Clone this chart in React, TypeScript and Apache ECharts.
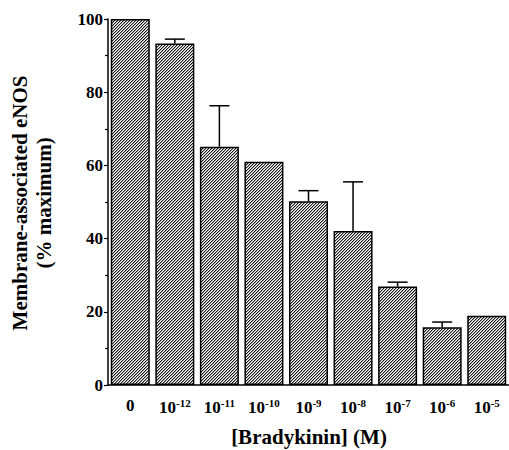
import React, { useEffect, useRef } from "react";
import * as echarts from "echarts";

const categories = ["0", "-12", "-11", "-10", "-9", "-8", "-7", "-6", "-5"];
const values = [100, 93.3, 65.1, 61.0, 50.2, 42.1, 26.9, 15.8, 18.9];
const errors = [0, 1.2, 11.2, 0, 2.9, 13.4, 1.2, 1.4, 0];
const yTicks = [0, 20, 40, 60, 80, 100];

const FONT = "'Liberation Serif', 'Times New Roman', serif";

function makePattern(): HTMLCanvasElement {
  const n = 3;
  const c = document.createElement("canvas");
  c.width = n;
  c.height = n;
  const ctx = c.getContext("2d")!;
  ctx.fillStyle = "#ffffff";
  ctx.fillRect(0, 0, n, n);
  for (let i = 0; i < n; i++) {
    ctx.fillStyle = "#1a1a1a";
    ctx.fillRect(n - 1 - i, i, 1, 1);
    ctx.fillStyle = "#a0a0a0";
    ctx.fillRect((n - i) % n, i, 1, 1);
  }
  return c;
}

export default function App() {
  const ref = useRef<HTMLDivElement>(null);
  useEffect(() => {
    if (!ref.current) return;
    const chart = echarts.init(ref.current, null, { renderer: "svg" });
    const pattern = makePattern();
    chart.setOption({
      animation: false,
      grid: { left: 108, top: 19, width: 401, height: 366, containLabel: false },
      xAxis: {
        type: "category",
        data: categories,
        axisLine: { lineStyle: { color: "#000", width: 1.5 } },
        axisTick: { show: false },
        axisLabel: {
          interval: 0,
          margin: 12,
          color: "#000",
          fontFamily: FONT,
          fontWeight: "bold",
          fontSize: 17,
          formatter: (v: string) => (v === "0" ? "{b|0}" : "{b|10}{s|" + v + "}"),
          rich: {
            b: { fontFamily: FONT, fontWeight: "bold", fontSize: 17, color: "#000" },
            s: { fontFamily: FONT, fontSize: 11, color: "#000", padding: [0, 0, 9, 0] },
          },
        },
      },
      yAxis: {
        type: "value",
        min: yTicks[0],
        max: yTicks[yTicks.length - 1],
        interval: 20,
        axisLine: { show: true, lineStyle: { color: "#000", width: 1.5 } },
        axisTick: { show: true, inside: false, length: 4, lineStyle: { color: "#000", width: 1.2 } },
        minorTick: { show: true, splitNumber: 2, length: 3, lineStyle: { color: "#000", width: 1.2 } },
        splitLine: { show: false },
        axisLabel: {
          margin: 5,
          color: "#000",
          fontFamily: FONT,
          fontWeight: "bold",
          fontSize: 17,
        },
      },
      series: [
        {
          type: "bar",
          data: values,
          barWidth: 39,
          itemStyle: {
            color: { image: pattern, repeat: "repeat" },
            borderColor: "#000",
            borderWidth: 1.5,
          },
        },
        {
          type: "custom",
          data: values.map((v, i) => [i, v, v + errors[i]]),
          renderItem: (params: any, api: any) => {
            const i = api.value(0);
            const lo = api.value(1);
            const hi = api.value(2);
            if (hi <= lo) return { type: "group", children: [] };
            const p0 = api.coord([i, lo]);
            const p1 = api.coord([i, hi]);
            const half = 10;
            const st = { stroke: "#000", lineWidth: 1.5 };
            return {
              type: "group",
              children: [
                { type: "line", shape: { x1: p0[0], y1: p0[1], x2: p1[0], y2: p1[1] }, style: st },
                { type: "line", shape: { x1: p1[0] - half, y1: p1[1], x2: p1[0] + half, y2: p1[1] }, style: st },
              ],
            };
          },
          z: 5,
        },
      ],
      graphic: [
        {
          type: "text",
          x: 20,
          y: 203,
          rotation: Math.PI / 2,
          style: {
            text: "Membrane-associated eNOS",
            fontFamily: FONT,
            fontWeight: "bold",
            fontSize: 21,
            fill: "#000",
            align: "center",
            verticalAlign: "middle",
          },
        },
        {
          type: "text",
          x: 44,
          y: 203,
          rotation: Math.PI / 2,
          style: {
            text: "(% maximum)",
            fontFamily: FONT,
            fontWeight: "bold",
            fontSize: 21,
            fill: "#000",
            align: "center",
            verticalAlign: "middle",
          },
        },
        {
          type: "text",
          x: 309,
          y: 437,
          style: {
            text: "[Bradykinin] (M)",
            fontFamily: FONT,
            fontWeight: "bold",
            fontSize: 21,
            fill: "#000",
            align: "center",
            verticalAlign: "middle",
          },
        },
      ],
    });
    return () => chart.dispose();
  }, []);
  return (
    <div
      ref={ref}
      style={{ position: "absolute", left: 0, top: 0, width: 509, height: 450, background: "#fff" }}
    />
  );
}
